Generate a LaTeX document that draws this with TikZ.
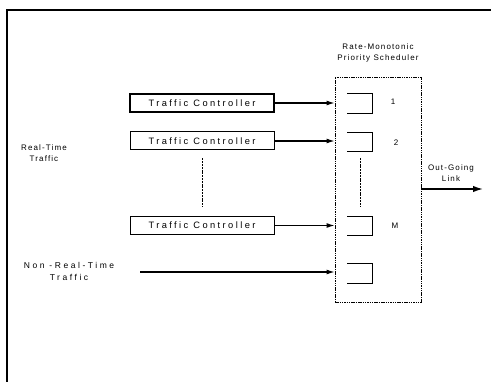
\documentclass[tikz,border=0pt]{standalone}
\usepackage{fontspec}
\setmainfont{Liberation Sans}
\newfontfamily\lbl[LetterSpace=14]{Liberation Sans}
\newfontfamily\lblw[LetterSpace=30]{Liberation Sans}
\newfontfamily\tcf[LetterSpace=26]{Liberation Sans}
\usetikzlibrary{arrows.meta}
\tikzset{
  txt/.style={font=\lbl\fontsize{8}{11.5}\selectfont, align=center, inner sep=0pt},
  wtxt/.style={font=\lblw\fontsize{8.5}{12}\selectfont, align=center, inner sep=0pt},
  tcbox/.style={draw, line width=1pt, minimum width=144pt, minimum height=18pt, inner sep=0pt, font=\tcf\fontsize{9.3}{10}\selectfont},
  conn/.style={line width=1.2pt, -{Latex[length=8pt,width=5pt]}},
  queue/.style={line width=0.95pt},
  sep/.style={line width=0.8pt, dash pattern=on 2pt off 0.8pt},
}
\begin{document}
\begin{tikzpicture}[x=1pt,y=-1pt]
\useasboundingbox (0,0) rectangle (491,382);
% frame
\draw[line width=1.4pt] (491,10) -- (7,10) -- (7,382);
% scheduler
\node[draw, line width=0.9pt, dash pattern=on 1.5pt off 0.8pt, minimum width=86pt, minimum height=225pt, inner sep=0pt] (sched) at (378,189.5) {};
\node[txt] (title) at (378,53) {Rate-Monotonic\\Priority Scheduler};
% traffic controllers
\node[tcbox, line width=1.4pt] (tc1) at (202,103) {Traffic Controller};
\node[tcbox] (tc2) at (202,141) {Traffic Controller};
\node[tcbox] (tcm) at (202,225.5) {Traffic Controller};
\draw[sep] (tc2.south) ++(0,8) coordinate (d1) (tcm.north) ++(0,-9) coordinate (d2);
\draw[sep] (d1) -- (d2);
% queues
\draw[queue] (347,93) -- (372,93) -- (372,113) -- (347,113);
\draw[queue] (347,132) -- (372,132) -- (372,151) -- (347,151);
\draw[queue] (347,216) -- (372,216) -- (372,235) -- (347,235);
\draw[queue] (347,263) -- (372,263) -- (372,283) -- (347,283);
\coordinate (q1) at (360,158);
\coordinate (q2) at (360,207);
\draw[sep] (q1) -- (q2);
\node[txt] (n1) at (393,102) {1};
\node[txt] (n2) at (396,143) {2};
\node[txt] (nm) at (395,226) {M};
% arrows
\draw[conn] (tc1.east) -- (tc1.east -| sched.west);
\draw[conn] (tc2.east) -- (tc2.east -| sched.west);
\draw[conn] (tcm.east) -- (tcm.east -| sched.west);
\coordinate (nrt) at (140,272);
\draw[conn] (nrt) -- (nrt -| sched.west);
\coordinate (out) at (483,189);
\draw[line width=1.5pt, -{Latex[length=10pt,width=6.5pt]}] (out -| sched.east) -- (out);
\node[txt] (outl) at (451,173) {Out-Going\\Link};
% left labels
\node[txt] (rt) at (44,153) {Real-Time\\Traffic};
\node[wtxt] (nrtl) at (69,271) {Non -Real-Time\\Traffic};
\end{tikzpicture}
\end{document}
